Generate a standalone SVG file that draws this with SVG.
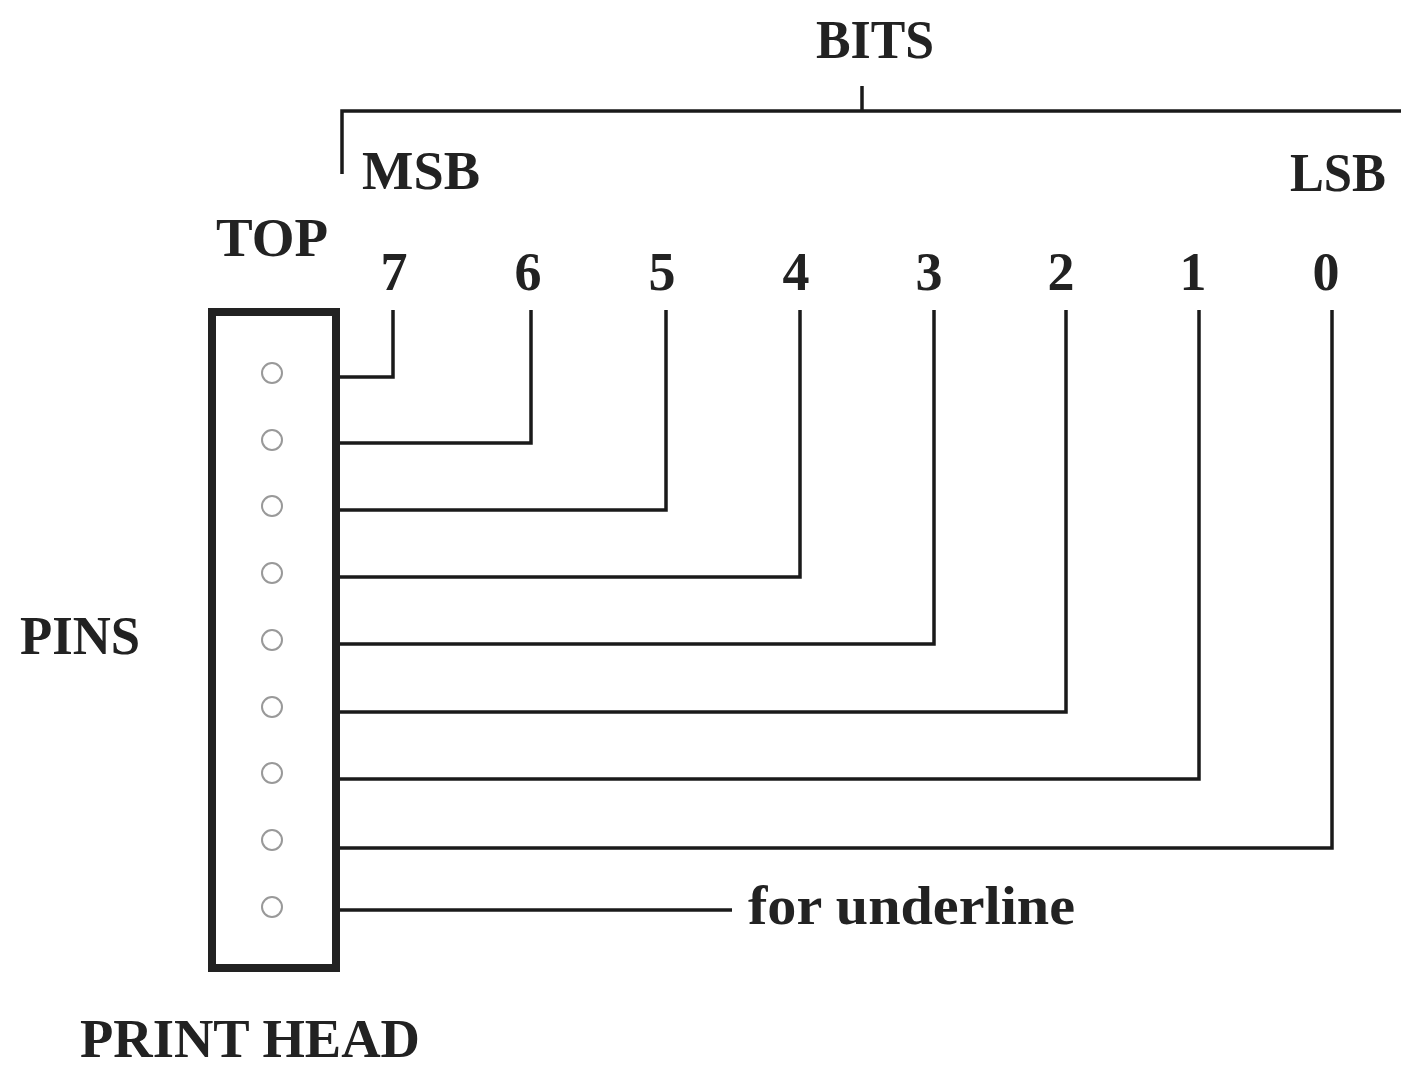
<svg xmlns="http://www.w3.org/2000/svg" width="1401" height="1068" viewBox="0 0 1401 1068">
<style>
.t{font-family:"Liberation Serif","DejaVu Serif",serif;font-weight:bold;fill:#222;font-size:54px}
.n{text-anchor:middle}
.w{fill:none;stroke:#1a1a1a;stroke-width:3.5}
.pin{fill:none;stroke:#999;stroke-width:2}
</style>
<rect width="1401" height="1068" fill="#fff"/>
<g id="bits-bracket" class="w">
<polyline points="342,174 342,111 1401,111"/>
<line x1="862" y1="86" x2="862" y2="111"/>
</g>
<g id="labels">
<text class="t n" x="875" y="58" textLength="118" lengthAdjust="spacingAndGlyphs">BITS</text>
<text class="t" x="362" y="189" textLength="118" lengthAdjust="spacingAndGlyphs">MSB</text>
<text class="t" x="1290" y="191" textLength="96" lengthAdjust="spacingAndGlyphs">LSB</text>
<text class="t" x="216" y="256" textLength="112" lengthAdjust="spacingAndGlyphs">TOP</text>
<text class="t" x="20" y="654" textLength="120" lengthAdjust="spacingAndGlyphs">PINS</text>
<text class="t" x="80" y="1057" textLength="340" lengthAdjust="spacingAndGlyphs">PRINT HEAD</text>
<text class="t" x="748" y="924" textLength="327" lengthAdjust="spacingAndGlyphs">for underline</text>
<text class="t n" x="394" y="290">7</text>
<text class="t n" x="528" y="290">6</text>
<text class="t n" x="662" y="290">5</text>
<text class="t n" x="796" y="290">4</text>
<text class="t n" x="929" y="290">3</text>
<text class="t n" x="1061" y="290">2</text>
<text class="t n" x="1193" y="290">1</text>
<text class="t n" x="1326" y="290">0</text>
</g>
<g id="print-head">
<rect x="212" y="312" width="124" height="656" fill="#fff" stroke="#222" stroke-width="8"/>
<circle class="pin" cx="272" cy="373" r="10"/>
<circle class="pin" cx="272" cy="440" r="10"/>
<circle class="pin" cx="272" cy="506" r="10"/>
<circle class="pin" cx="272" cy="573" r="10"/>
<circle class="pin" cx="272" cy="640" r="10"/>
<circle class="pin" cx="272" cy="707" r="10"/>
<circle class="pin" cx="272" cy="773" r="10"/>
<circle class="pin" cx="272" cy="840" r="10"/>
<circle class="pin" cx="272" cy="907" r="10"/>
</g>
<g id="connectors" class="w">
<polyline points="340,377 393,377 393,310"/>
<polyline points="340,443 531,443 531,310"/>
<polyline points="340,510 666,510 666,310"/>
<polyline points="340,577 800,577 800,310"/>
<polyline points="340,644 934,644 934,310"/>
<polyline points="340,712 1066,712 1066,310"/>
<polyline points="340,779 1199,779 1199,310"/>
<polyline points="340,848 1332,848 1332,310"/>
<line x1="340" y1="910" x2="732" y2="910"/>
</g>
</svg>
